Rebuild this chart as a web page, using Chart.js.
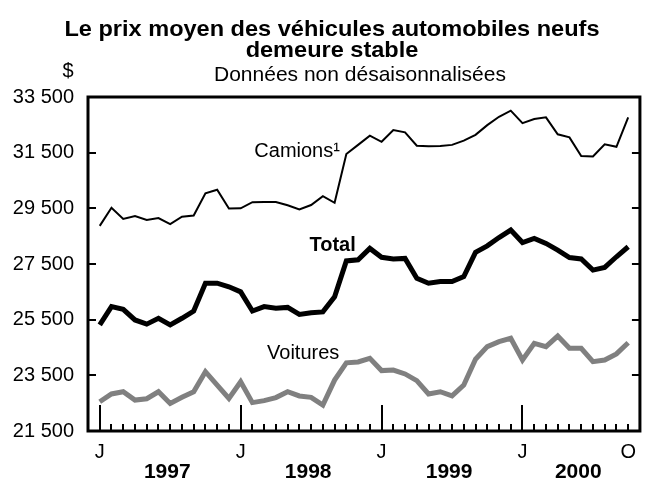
<!DOCTYPE html>
<html>
<head>
<meta charset="utf-8">
<script src="https://cdn.jsdelivr.net/npm/chart.js@4/dist/chart.umd.min.js"></script>
<style>
html,body{margin:0;padding:0;background:#fff;}
#wrap{width:645px;height:486px;position:relative;}
</style>
</head>
<body>
<div id="wrap"><canvas id="c" width="645" height="486"></canvas></div>
<script>
// Months, Jan 1997 .. Oct 2000
const months = [
 '1997-01','1997-02','1997-03','1997-04','1997-05','1997-06','1997-07','1997-08','1997-09','1997-10','1997-11','1997-12',
 '1998-01','1998-02','1998-03','1998-04','1998-05','1998-06','1998-07','1998-08','1998-09','1998-10','1998-11','1998-12',
 '1999-01','1999-02','1999-03','1999-04','1999-05','1999-06','1999-07','1999-08','1999-09','1999-10','1999-11','1999-12',
 '2000-01','2000-02','2000-03','2000-04','2000-05','2000-06','2000-07','2000-08','2000-09','2000-10'
];
// Trucks (Camions)
const camions = [
 28870,29520,29120,29220,29080,29150,28930,29200,29240,30040,30170,29490,
 29500,29720,29730,29730,29610,29460,29620,29940,29700,31450,31780,32110,
 31890,32310,32230,31750,31730,31740,31780,31930,32140,32490,32790,33010,
 32560,32710,32770,32160,32050,31380,31360,31800,31710,32770
];
// Total
const total = [
 25310,25970,25870,25490,25340,25550,25310,25550,25810,26810,26810,26680,
 26500,25810,25970,25910,25940,25690,25750,25780,26320,27610,27650,28060,
 27740,27680,27700,26990,26810,26870,26870,27050,27920,28150,28450,28720,
 28270,28420,28240,28000,27730,27680,27280,27380,27760,28120
];
// Cars (Voitures)
const voitures = [
 22550,22830,22910,22610,22660,22910,22490,22710,22910,23630,23150,22670,
 23270,22520,22590,22700,22910,22760,22710,22430,23330,23950,23980,24110,
 23670,23690,23550,23310,22830,22910,22760,23150,24080,24530,24710,24830,
 24050,24650,24530,24910,24470,24470,23990,24050,24270,24670
];
// Axis tick labels
const xTickMonths = ['1997-01','1998-01','1999-01','2000-01','2000-10'];
const xTickLabels = ['J','J','J','J','O'];
const years = ['1997','1998','1999','2000'];
const yTicks = [21500,23500,25500,27500,29500,31500,33500];

const titleLines = ['Le prix moyen des véhicules automobiles neufs','demeure stable'];
const subtitleText = 'Données non désaisonnalisées';
const unitText = '$';
const seriesLabels = ['Camions\u00b9','Total','Voitures'];
// label anchors in data units (month index, value)
const labelAnchors = [[20.45,31530],[21.8,28160],[20.4,24300]];

const FONT = "'Liberation Sans', Arial, Helvetica, sans-serif";

function pts(arr){ return arr.map((v,i)=>({x:i,y:v})); }

const yearCenters = years.map(y=>{
  const idx = months.map((m,i)=>m.startsWith(y)?i:-1).filter(i=>i>=0);
  return (idx[0]+idx[idx.length-1])/2 + 0.25;
});

const fmt = v => { const s = String(Math.round(v)); return s.length>3 ? s.slice(0,s.length-3)+' '+s.slice(-3) : s; };

const framePlugin = {
  id:'frame',
  afterDatasetsDraw(chart){
    const {ctx, chartArea:a} = chart;
    const xs = chart.scales.x, ys = chart.scales.y;
    ctx.save();
    ctx.strokeStyle = '#000';
    ctx.lineCap = 'butt';
    // ticks
    ctx.lineWidth = 2;
    ctx.beginPath();
    yTicks.forEach(v=>{
      const y = Math.round(ys.getPixelForValue(v));
      ctx.moveTo(a.left, y); ctx.lineTo(a.left+8, y);
      ctx.moveTo(a.right, y); ctx.lineTo(a.right-8, y);
    });
    months.forEach((m,i)=>{
      const x = Math.round(xs.getPixelForValue(i));
      const len = m.endsWith('-01') ? 26 : 7;
      ctx.moveTo(x, a.bottom); ctx.lineTo(x, a.bottom-len);
    });
    ctx.stroke();
    // frame
    ctx.lineWidth = 3;
    ctx.strokeRect(a.left, a.top, a.right-a.left, a.bottom-a.top);
    // series labels
    ctx.fillStyle = '#000';
    ctx.textAlign = 'right';
    ctx.textBaseline = 'middle';
    seriesLabels.forEach((t,i)=>{
      ctx.font = (i===1 ? 'bold ' : '') + '20px ' + FONT;
      ctx.fillText(t, xs.getPixelForValue(labelAnchors[i][0]), ys.getPixelForValue(labelAnchors[i][1]));
    });
    // $ unit
    ctx.textAlign = 'center';
    ctx.font = '20px ' + FONT;
    ctx.fillText(unitText, a.left-20, a.top-26);
    // subtitle
    ctx.font = '21px ' + FONT;
    ctx.fillText(subtitleText, (a.left+a.right)/2 - 4, a.top - 22);
    // title (slightly stretched horizontally like the original)
    ctx.save();
    ctx.translate(332, 0);
    ctx.scale(1.07, 1);
    ctx.font = 'bold 22px ' + FONT;
    titleLines.forEach((t,i)=> ctx.fillText(t, 0, 30 + i*20.5));
    ctx.restore();
    ctx.restore();
  }
};

new Chart(document.getElementById('c'), {
  type:'line',
  data:{
    datasets:[
      {label:'Voitures', data:pts(voitures), borderColor:'#808080', borderWidth:5, pointRadius:0, tension:0},
      {label:'Total', data:pts(total), borderColor:'#000', borderWidth:5, pointRadius:0, tension:0},
      {label:'Camions', data:pts(camions), borderColor:'#000', borderWidth:2, pointRadius:0, tension:0}
    ]
  },
  options:{
    responsive:false,
    animation:false,
    events:[],
    layout:{padding:{left:0,right:2,top:97,bottom:0}},
    plugins:{
      legend:{display:false},
      tooltip:{enabled:false},
      title:{display:false},
      subtitle:{display:false}
    },
    scales:{
      x:{type:'linear', min:-1, max:46, position:'bottom',
        grid:{display:false, drawTicks:false}, border:{display:false},
        afterBuildTicks(s){ s.ticks = xTickMonths.map(m=>({value:months.indexOf(m)})); },
        ticks:{autoSkip:false, maxRotation:0, color:'#000', padding:9, font:{family:FONT,size:20},
          callback(v){ const k = xTickMonths.map(m=>months.indexOf(m)).indexOf(v); return k>=0 ? xTickLabels[k] : ''; }},
        afterFit(s){ s.height = 29; }
      },
      x2:{type:'linear', min:-1, max:46, position:'bottom',
        grid:{display:false, drawTicks:false}, border:{display:false},
        afterBuildTicks(s){ s.ticks = yearCenters.map(v=>({value:v})); },
        ticks:{autoSkip:false, maxRotation:0, color:'#000', padding:0, font:{family:FONT,size:21,weight:'bold'},
          callback(v){ const k = yearCenters.indexOf(v); return k>=0 ? years[k] : ''; }},
        afterFit(s){ s.height = 26; }
      },
      y:{min:21500, max:33500,
        grid:{display:false, drawTicks:false}, border:{display:false},
        afterBuildTicks(s){ s.ticks = yTicks.map(v=>({value:v})); },
        ticks:{color:'#000', padding:14, font:{family:FONT,size:20}, callback:v=>fmt(v)},
        afterFit(s){ s.width = 88; }
      }
    }
  },
  plugins:[framePlugin]
});
</script>
</body>
</html>
